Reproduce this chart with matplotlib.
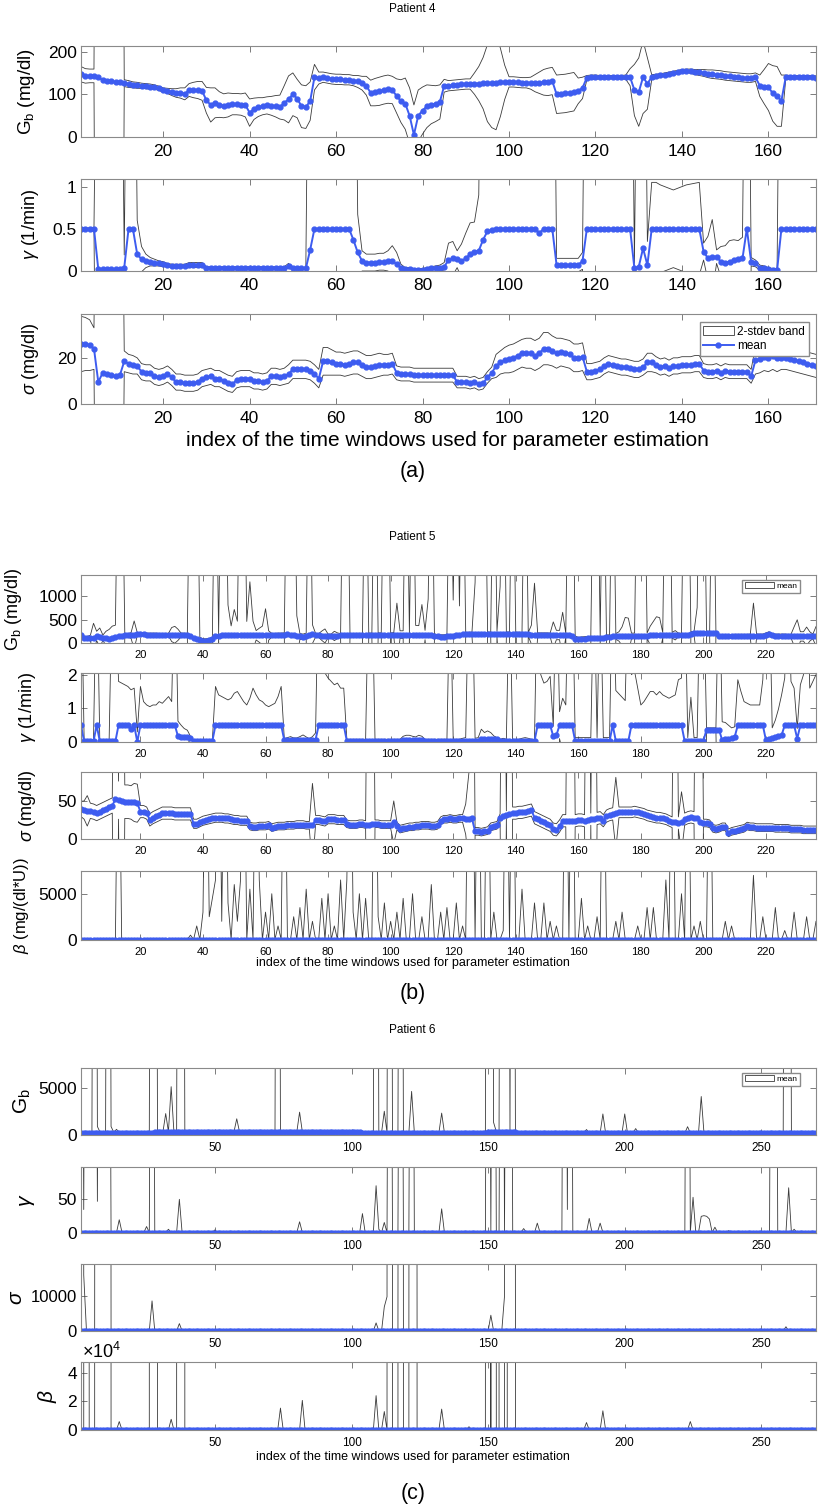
import numpy as np
import matplotlib
matplotlib.use("Agg")
import matplotlib.pyplot as plt
from matplotlib import font_manager
from matplotlib.patches import Patch
from matplotlib.lines import Line2D

# ---------------- fonts ----------------
names = {f.name for f in font_manager.fontManager.ttflist}
MAIN_FONT = "Liberation Sans"
NARROW_FONT = "Liberation Sans Narrow" if "Liberation Sans Narrow" in names else MAIN_FONT
plt.rcParams["font.family"] = [MAIN_FONT, "DejaVu Sans"]
plt.rcParams["mathtext.fontset"] = "custom"
plt.rcParams["mathtext.rm"] = MAIN_FONT
plt.rcParams["mathtext.it"] = MAIN_FONT + ":italic"

BAND_COLOR = "#3a3a3a"
MEAN_COLOR = "#3d5cf0"

# ================= Patient 4 (171 windows) =================
gb4_mean = [
    147, 143, 143, 143, 140, 133, 130, 130, 129, 128,
    126, 124, 122, 121, 120, 119, 118, 117, 114, 110,
    108, 105, 103, 103, 101, 110, 110, 110, 108, 86,
    75, 80, 76, 73, 75, 77, 77, 76, 75, 57,
    66, 70, 72, 74, 73, 72, 70, 80, 88, 100,
    90, 72, 70, 84, 140, 138, 140, 138, 136, 135,
    135, 134, 134, 132, 130, 126, 120, 103, 105, 107,
    110, 112, 110, 96, 84, 78, 50, 5, 50, 62,
    72, 76, 78, 82, 120, 120, 121, 122, 123, 124,
    124, 125, 125, 126, 126, 127, 127, 128, 128, 129,
    129, 128, 127, 127, 126, 126, 127, 128, 129, 131,
    100, 101, 102, 104, 106, 108, 115, 139, 140, 140,
    140, 140, 140, 140, 140, 140, 140, 140, 110, 105,
    140, 125, 140, 142, 144, 146, 148, 150, 152, 154,
    155, 154, 152, 151, 150, 148, 147, 146, 145, 143,
    142, 141, 140, 139, 138, 138, 140, 120, 118, 117,
    102, 95, 85, 140, 140, 140, 140, 140, 140, 140,
    139]
# half width of the 2-stdev band
gb4_band = [
    18, 17, 16, 16, 2000, 2000, 2000, 2000, 2000, 2000,
    8, 8, 7, 7, 6, 6, 6, 5, 5, 5,
    6, 8, 10, 12, 14, 15, 18, 20, 22, 30,
    40, 35, 30, 28, 28, 25, 25, 25, 28, 32,
    25, 22, 20, 20, 22, 25, 28, 40, 55, 50,
    45, 50, 50, 45, 30, 14, 12, 12, 12, 12,
    12, 12, 12, 12, 14, 16, 22, 30, 32, 33,
    33, 33, 32, 40, 50, 60, 65, 70, 60, 55,
    50, 45, 42, 40, 15, 12, 12, 12, 12, 12,
    12, 25, 40, 60, 90, 105, 110, 80, 40, 12,
    12, 12, 12, 12, 14, 20, 25, 30, 32, 32,
    45, 45, 45, 45, 45, 30, 25, 5, 5, 5,
    4, 4, 4, 4, 4, 4, 5, 20, 60, 80,
    85, 60, 6, 5, 4, 4, 4, 4, 4, 4,
    4, 5, 6, 7, 8, 9, 10, 10, 10, 10,
    10, 10, 10, 10, 10, 10, 10, 25, 40, 55,
    65, 70, 60, 5, 4, 4, 4, 4, 4, 4,
    4]
gamma4_mean = [
    .5, .5, .5, .5, .02, .02, .02, .02, .02, .02,
    .04, .5, .5, .2, .14, .12, .11, .10, .09, .08,
    .07, .06, .06, .06, .06, .07, .07, .07, .07, .04,
    .04, .04, .04, .04, .04, .04, .04, .04, .04, .04,
    .04, .04, .04, .04, .04, .04, .04, .04, .06, .03,
    .03, .03, .03, .25, .5, .5, .5, .5, .5, .5,
    .5, .5, .5, .37, .22, .12, .1, .1, .1, .11,
    .11, .12, .12, .08, .04, .02, .02, .01, .01, .01,
    .02, .03, .04, .04, .05, .13, .15, .14, .12, .15,
    .2, .23, .24, .37, .47, .48, .5, .5, .5, .5,
    .5, .5, .5, .5, .5, .5, .45, .5, .5, .5,
    .07, .07, .07, .07, .07, .07, .12, .5, .5, .5,
    .5, .5, .5, .5, .5, .5, .5, .5, .03, .05,
    .27, .07, .5, .5, .5, .5, .5, .5, .5, .5,
    .5, .5, .5, .5, .23, .15, .17, .17, .11, .1,
    .11, .13, .14, .15, .5, .11, .09, .04, .03, .02,
    .01, .01, .5, .5, .5, .5, .5, .5, .5, .5,
    .5]
gamma4_band = [
    .01, .01, .01, .01, 5, 5, 5, 5, 5, 5,
    .15, 5, 5, .4, .15, .08, .05, .04, .03, .03,
    .02, .02, .02, .02, .02, .03, .03, .03, .03, .01,
    .01, .01, .01, .01, .01, .01, .01, .01, .01, .01,
    .01, .01, .01, .01, .01, .01, .01, .01, .03, .01,
    .01, .01, .01, 5, 5, 5, 5, 5, 5, 5,
    5, 5, 5, 5, .45, .12, .1, .1, .1, .1,
    .1, .12, .18, .14, .04, .02, .02, .02, .02, .02,
    .02, .02, .02, .03, .05, .2, .2, .1, .2, .3,
    .37, .35, .66, 5, 5, 5, 5, 5, 5, 5,
    5, 5, 5, 5, 5, 5, 5, 5, 5, 5,
    .08, .08, .08, .08, .08, .08, .1, 5, 5, 5,
    5, 5, 5, 5, 5, 5, 5, 5, .06, 5,
    5, .28, .55, .55, .52, .5, .48, .46, .48, .5,
    .52, .53, .54, .55, .1, .26, .44, .08, .18, .2,
    .25, .24, .22, .25, 5, .05, .04, .03, .03, .02,
    .02, .02, 5, 5, 5, 5, 5, 5, 5, 5,
    5]
sigma4_mean = [
    26, 26, 25.5, 24, 9.5, 13.5, 13, 12.5, 12, 12.5,
    18.5, 17.5, 17, 16.5, 14, 13.5, 13.5, 12, 11.5, 12,
    13, 11.5, 9.5, 9.5, 9, 9, 9, 9.5, 11, 11.5,
    12, 11, 11, 10, 9, 8.5, 10.5, 11, 11, 11,
    10, 10, 9.5, 10, 12, 12, 11.5, 12, 13, 15,
    15, 15, 15, 14.5, 13, 11, 18.5, 18.5, 18, 17.5,
    17.5, 17, 17.5, 18, 18, 17, 16, 16, 16.5, 17,
    17, 17, 17.5, 13.5, 13, 13, 13, 12.5, 12.5, 12.5,
    12.5, 12.5, 12.5, 12.5, 12.5, 12.5, 12.5, 9.5, 9.5, 9.5,
    9, 9.5, 8.5, 9, 11.5, 13.5, 16.5, 18, 19, 19.5,
    20, 21, 22, 22, 22, 21, 22, 24, 24, 23,
    22, 22.5, 22, 21.5, 20, 20, 20.5, 14, 14, 14.5,
    15, 16.5, 17.5, 17, 16.5, 16, 16, 15.5, 15, 15,
    16, 18, 18, 17, 16, 16.5, 15.5, 16.5, 16.5, 17,
    17, 17, 17.5, 17.5, 14.5, 14, 14, 14.5, 13.5, 14.5,
    14, 14, 14, 14, 14, 12, 19, 19.5, 20.5, 20,
    21, 20, 20, 20, 19.5, 19, 18.5, 18, 17.5, 17,
    16.5]
sigma4_band = [
    12, 11.5, 11, 9, 200, 200, 200, 200, 200, 200,
    4.5, 4, 4, 3.5, 3.5, 3.5, 3.5, 3.5, 3.5, 3.5,
    3.5, 3.5, 3.5, 3.5, 3.5, 3.5, 3.5, 3.5, 3.5, 3.5,
    3.5, 3.5, 3.5, 3.5, 3.5, 3.5, 3.5, 3.5, 3.5, 3.5,
    3.5, 3.5, 3.5, 3.5, 3.5, 3.5, 3.5, 3.5, 4, 4,
    4, 4, 4, 4, 4, 4, 6, 6, 5.5, 5,
    5, 5, 5, 5, 5, 5, 5, 5, 5, 5,
    4.5, 4.5, 4.5, 3, 3, 3, 3, 3, 3, 3,
    3, 3, 3, 3, 3, 3, 3, 2.5, 2.5, 2.5,
    2.5, 2.5, 2.5, 2.5, 2.5, 2.5, 5, 5, 5.5, 6,
    6, 6, 6, 6.5, 6.5, 6.5, 6.5, 7, 7, 6.5,
    6.5, 6, 6, 6, 6, 6, 6, 3.5, 3.5, 3.5,
    3.5, 3.5, 3.5, 3.5, 3.5, 3.5, 3.5, 3.5, 3.5, 3.5,
    3.5, 4, 4, 3.5, 3.5, 3.5, 3.5, 3.5, 3.5, 3.5,
    3.5, 3.5, 3.5, 3.5, 3, 3, 3, 3, 3, 3,
    3, 3, 3, 3, 3, 3, 6, 6, 6, 6,
    6, 6, 5, 5, 5, 5, 5, 5, 5, 5,
    5]

# ================= Patient 5 (236 windows) =================
gb5_mean = (
    [175, 105, 100, 105, 110, 150, 120, 110, 100, 90, 110, 120]
    + [150, 155, 160, 160, 160, 170, 190, 200]
    + [185, 180, 180, 180, 180, 175, 175, 175, 180, 180, 175, 175, 170, 170, 165]
    + [150, 110, 80, 60, 50, 50, 60, 80]
    + [150, 155, 160, 160, 160, 165, 165, 165, 160, 160, 160, 165, 165, 165, 165,
       160, 160, 160, 165, 165, 170, 170, 175]
    + [200, 170, 160, 150, 140, 130, 150, 180, 190]
    + [165, 160, 155, 150, 150, 150, 150, 155, 160, 160, 160]
    + [160, 160, 165, 165, 165, 170, 170, 170, 170, 175, 175, 175, 175, 175]
    + [180, 180, 180, 180, 175, 175, 175, 175, 170, 170, 170, 165, 160, 150, 140]
    + [135, 135, 140, 145, 155]
    + [175, 180, 185, 185, 190, 190, 190, 190, 195, 195, 195, 190, 190, 190, 190,
       195, 195, 195, 190, 190, 190, 185, 185, 185, 180]
    + [175, 175, 175, 175, 175, 170, 170, 170, 170, 165, 165, 160, 150]
    + [90, 80, 90, 95, 100, 100, 105, 110, 110, 115]
    + [130, 135, 140, 140, 140, 145, 145]
    + [150, 150, 150, 155, 155, 155, 155, 160, 160, 160, 160, 165, 165, 165, 165,
       165, 170, 170, 175, 180]
    + [200, 205, 205, 210, 210, 210, 210, 215, 210]
    + [140, 140, 140, 140, 140, 145, 145, 145, 145, 145, 150, 150, 150, 150, 150,
       175, 200, 160, 150, 150, 150, 150, 145, 145, 145, 145, 140, 140, 140, 140,
       140, 140]
)
gb5_band = (
    [20, 40, 40, 60, 310, 100, 200, 60, 150, 200, 250, 260]
    + [5000, 5000] + [40, 40, 60, 300] + [30] * 11 + [150, 180, 120] + [40] * 3
    + [5000] * 3 + [60, 40, 40, 40, 40] + [5000] + [40] + [5000, 5000]
    + [650, 200, 550, 300] + [5000, 5000]
    + [300, 1140, 300, 100, 150, 200, 570, 100] + [40] * 5 + [5000] * 3 + [430]
    + [60, 60, 60] + [5000] + [200] + [40, 40, 100, 150, 40, 40, 100, 60, 40]
    + [5000, 5000] + [40] * 5 + [5000] + [40, 40] + [5000] + [40, 40]
    + [5000, 5000] + [40, 40] + [670, 80, 80] + [5000] + [40] + [5000]
    + [200, 200, 650, 100, 770] + [5000] + [40] * 5 + [5000] + [760] + [5000]
    + [610] + [5000] + [40] * 3 + [1100] + [5000] * 3 + [40, 40] + [5000]
    + [60, 1010] + [5000] + [40, 40] + [5000] + [40] * 3 + [5000]
    + [40, 200, 1100] + [40] * 5 + [280, 100, 100, 490, 40] + [5000, 5000]
    + [60, 40, 40, 40, 40, 40] + [5000, 5000] + [40] + [5000] + [40, 40] + [5000]
    + [60, 100, 200, 400, 380, 60, 60] + [5000] * 3
    + [60, 200, 300, 400, 380, 60] + [5000, 5000] + [60, 100, 40, 40]
    + [5000, 5000] + [40, 40, 550] + [5000, 5000] + [40, 40] + [5000]
    + [40] * 12 + [700] + [40] * 12 + [200, 350, 100, 100, 200, 100, 50, 210]
)
gamma5_mean = (
    [.5] + [.02] * 4 + [.5] + [.03, .02, .02, .02, .02, .02]
    + [.5, .5, .5, .5, .4, .5] + [0.0] + [.5] * 12
    + [.17, .15, .15, .15, .12] + [.03] * 7 + [.5] * 22
    + [.05, .05, .06, .07, .07, .06, .06, .05, .05, .06, .07] + [.5] * 9
    + [.03] * 18 + [.05] * 7 + [.03] * 18 + [.08] * 6 + [.03] * 12
    + [.5] * 5 + [.17, .2] + [.5] * 5 + [.03] * 12 + [.5] + [.03] * 5
    + [.5] * 17 + [.03] * 7 + [.37] * 5 + [.05, .08, .1, .12, .15]
    + [.5] * 9 + [.05, .1, .12, .15, .18, .2] + [.5] * 4 + [.1] + [.5] * 6
)
gamma5_band = (
    [5] + [.05] * 4 + [5] + [.05] * 4 + [5, 5]
    + [1.3, 1.25, 1.2, 1.15, 1.15, 1.1] + [.3, 1.15]
    + [.7, .6, .55, .6, .6, .7, .65, .75, .85, .7, 5]
    + [.45, .35, .25, .2, .05] + [.03] * 7
    + [1.15, .9, .85, .8, .75, .8, .95, 1.0, .85, .7, .6, .8, 1.1, .9, .75, .7,
       .6, .55, .6, .65, .85, 1.15]
    + [.05, .08, .1, .05, .05, .1, .15, .1, .05, .1, .2]
    + [5, 5, 1.55, 1.4, 1.3, 1.2, 1.25, 1.1, 1.1]
    + [.05] * 7 + [5, 5] + [.05] * 9 + [.12, .15, .15, .12, .1, .15, .12]
    + [.05] * 8 + [5] + [.05, .05, .05, .08, .1] + [5, 5] + [.08, .1]
    + [.3, .2, .25, .2, .1] + [.05, .05, .08, .05] + [5]
    + [.05, .05, .05, .08, .1, .08, .05, .05]
    + [5, 1.5, 1.25, 1.3, 1.45] + [.3, 5] + [.4, .8, .6, 5, 5]
    + [.1, .1, .1, .1, .1, .1, 5, .1, 5, .1, .1, .1] + [5]
    + [1.5, 1.4, 1.3, 1.2, 5]
    + [1.5, 1.6, 1.1, .6, .7, .85, 1.0, 1.0, .9, 1.0, .9, .85, .8, .85, .9, 1.35, 1.4]
    + [5, .1, 1.3, .1, .1, 5, 5] + [.05, .05, .05, .05, 5]
    + [.55, .5, .4, .3, .3] + [1.35, 1.0, .7, .65, .6, .6, .6, .6, 1.35]
    + [5, 5, .3, .5, .8, 1.2] + [1.4, 5, 1.3, 1.1] + [.3]
    + [1.2, 1.5, 5, 1.1, 1.3, 1.5]
)
sigma5_mean = (
    [39.5, 38, 37, 37, 36, 34, 36, 38, 40, 42, 44]
    + [52, 51, 50, 49, 49, 48, 48, 47] + [36, 36, 34] + [25, 28, 30, 32]
    + [34, 34, 34, 34, 33, 33, 33, 33, 33, 33] + [20, 20, 22, 24, 25]
    + [26, 27, 28, 28, 28, 27, 27] + [26, 25, 25, 24, 24, 24]
    + [17, 16, 16, 17, 17, 17, 18, 15, 16, 17, 17, 17]
    + [18, 18, 18, 19, 19, 19, 18, 18, 18]
    + [25, 25, 24, 23, 26, 26, 26, 25, 25, 25]
    + [20, 19, 19, 19, 20, 20, 19, 19, 20, 20, 20, 19, 19, 19, 19]
    + [22, 17, 13, 14] + [15, 16, 16, 17, 17, 18, 18, 18, 17, 17, 18]
    + [24, 26, 26, 27, 26, 26, 27, 27, 26, 26, 27] + [10, 10, 9, 10, 11]
    + [16, 17, 18] + [28, 30, 32, 33, 34, 34, 35, 35, 36, 37, 38]
    + [28, 26, 24, 22, 20, 18] + [13, 12, 17]
    + [24, 24, 23, 24, 24, 25, 25, 24, 25, 26, 26, 27, 28] + [24]
    + [30, 32, 33, 34, 35, 35, 35, 35, 35, 36, 35, 34, 33]
    + [31, 30, 29, 28, 28, 27] + [26, 24, 22, 22, 21, 22] + [26, 28, 29, 28, 27]
    + [22, 21, 21, 20] + [14, 13, 14, 16, 16] + [8, 10, 11, 12, 13, 14]
    + [17, 16, 16, 15, 15, 15, 15]
    + [15, 15, 14, 14, 14, 14, 14, 13, 13, 13, 13, 12, 12, 12, 12, 12]
)
sigma5_band = (
    [10, 12, 20, 10, 10, 10, 10, 10, 10, 10, 10] + [500, 25, 500, 22, 22, 22, 25, 25]
    + [8] * 17 + [6] * 18 + [5] * 20 + [55] + [6] * 10 + [5] * 7 + [500, 500]
    + [5] * 6 + [28] + [5] * 22 + [20, 60, 500] + [5] * 9 + [500, 5, 500]
    + [8] * 18 + [500, 500] + [8] * 4 + [500, 8, 500] + [8] * 6 + [47] + [7] * 18
    + [500, 8, 40] + [8] * 4 + [500, 500] + [5] * 37
)
beta5_mean = [30] * 236
beta5_base = 30
# window index -> upper band height above the mean (30000 = off the top)
beta5_peaks = {
    13: 30000, 36: 500, 38: 1500, 40: 3000, 41: 30000, 42: 2500, 43: 4500,
    44: 6500, 45: 30000, 46: 2000, 47: 30000, 48: 4000, 50: 6000, 51: 2000,
    52: 6500, 53: 30000, 55: 5500, 57: 30000, 58: 6500, 60: 3000, 62: 5000,
    64: 1500, 66: 30000, 69: 2500, 71: 3500, 73: 5500, 75: 2000, 78: 4500,
    80: 5000, 82: 1500, 84: 6500, 86: 6500, 87: 30000, 88: 3000, 90: 5000,
    92: 4500, 95: 30000, 96: 2500, 98: 4000, 100: 2000, 102: 3000, 104: 4500,
    107: 5000, 110: 2500, 113: 6000, 116: 3000, 118: 3500, 121: 4000,
    123: 1500, 125: 30000, 126: 30000, 128: 30000, 131: 30000, 133: 3000,
    136: 1000, 137: 30000, 139: 30000, 142: 5500, 146: 4000, 149: 4000,
    151: 2000, 153: 1500, 156: 30000, 158: 30000, 161: 4500, 163: 1500,
    166: 2500, 168: 30000, 172: 2000, 174: 3000, 179: 1500, 182: 3500,
    184: 3500, 188: 6500, 190: 30000, 193: 5000, 195: 30000, 197: 1500,
    199: 2000, 202: 30000, 207: 2000, 209: 1500, 216: 7000, 219: 2500,
    223: 3500, 226: 1000, 229: 3000, 233: 2500, 236: 2000,
}

# ================= Patient 6 (270 windows) =================
gb6_mean = [250] * 27 + [320] * 76 + [220] * 46 + [330] * 11 + [180] * 110
gb6_base = 30
gb6_peaks = {
    6: 1e5, 7: 650, 11: 1e5, 12: 650, 14: 350, 27: 1e5, 28: 1e5, 32: 1950,
    34: 4800, 37: 1e5, 38: 1e5, 58: 1400, 73: 1e5, 81: 2100, 92: 150,
    109: 1e5, 112: 2300, 114: 1e5, 118: 1e5, 122: 4400, 133: 2100,
    150: 1e5, 151: 1e5, 152: 1000, 155: 1e5, 156: 1e5, 157: 1e5, 159: 1e5,
    186: 400, 192: 2050, 200: 2050, 204: 500, 223: 700, 228: 3900,
    259: 1e5, 260: 1e5,
}
gamma6_mean = [0.5] * 270
gamma6_base = 0.3
gamma6_peaks = {
    1: 1000, 2: 34, 3: 1000, 4: 1000, 5: 1000, 6: 1000, 7: 46, 8: 1000,
    9: 1000, 10: 1000, 11: 1000, 15: 19, 25: 9, 27: 1000, 33: 5, 37: 49,
    50: 4, 81: 16, 104: 28, 109: 69, 110: 5, 112: 15, 114: 1000, 118: 1000,
    122: 1000, 133: 35, 150: 1000, 152: 1000, 155: 1000, 157: 1000,
    158: 1000, 163: 6, 168: 14, 178: 1000, 179: 34, 180: 1000, 187: 21,
    191: 14, 223: 1000, 225: 52, 228: 24, 229: 25, 230: 24, 231: 20,
    233: 8, 238: 3, 254: 1000, 255: 1000, 260: 66, 262: 5,
}
sigma6_mean = [20] * 270
sigma6_base = 10
sigma6_peaks = {
    1: 1e6, 2: 16000, 7: 1e6, 8: 1e6, 9: 1e6, 10: 1e6, 11: 1e6, 27: 8600,
    37: 2100, 109: 2300, 112: 6900, 113: 9800, 114: 1e6, 118: 1e6,
    122: 1e6, 123: 1e6, 151: 4500, 156: 10000, 157: 1e6, 158: 1e6,
    159: 1e6, 193: 500, 259: 1200,
}
beta6_mean = [0] * 270
beta6_base = 100
beta6_peaks = {
    3: 1e7, 7: 1e7, 8: 1e7, 9: 1e7, 10: 1e7, 11: 1e7, 15: 5900, 27: 1e7,
    28: 1e7, 34: 7500, 37: 1e7, 38: 1e7, 74: 15300, 82: 20700, 109: 24000,
    112: 12900, 114: 1e7, 118: 1e7, 122: 1e7, 123: 1e7, 133: 14600,
    143: 2300, 150: 1e7, 152: 1e7, 155: 1e7, 158: 1e7, 159: 1e7,
    186: 5200, 192: 13400, 224: 5900,
}


def with_peaks(n, base, peaks):
    band = [base] * n
    for k, v in peaks.items():
        band[k - 1] = v
    return band


# ---------------- figure helpers ----------------
W, H = 825, 1504
fig = plt.figure(figsize=(W / 100, H / 100), dpi=100)


def axes_px(top, bottom, left=81, right=816):
    return fig.add_axes([left / W, 1 - bottom / H, (right - left) / W, (bottom - top) / H])


def draw(ax, mean, band, scale=1.0):
    mean = np.asarray(mean, dtype=float) / scale
    band = np.asarray(band, dtype=float) / scale
    x = np.arange(1, len(mean) + 1)
    ax.plot(x, mean + band, color=BAND_COLOR, lw=0.6)
    ax.plot(x, mean - band, color=BAND_COLOR, lw=0.6)
    ax.plot(x, mean, color=MEAN_COLOR, lw=1.4, marker="o", ms=3.5,
            mec=MEAN_COLOR, mfc=MEAN_COLOR)


def style(ax, xlim, xticks, ylim, yticks, yticklabels, xsize, ysize, font):
    ax.set_xlim(xlim)
    ax.set_ylim(ylim)
    ax.set_xticks(xticks)
    ax.set_yticks(yticks)
    ax.set_yticklabels(yticklabels)
    ax.tick_params(direction="in", top=True, right=True, length=4, width=0.6,
                   color="#666666", pad=3)
    ax.tick_params(axis="x", labelsize=xsize, pad=5)
    ax.tick_params(axis="y", labelsize=ysize)
    for lab in ax.get_xticklabels() + ax.get_yticklabels():
        lab.set_family(font)
    for s in ax.spines.values():
        s.set_color("#8a8a8a")
        s.set_linewidth(0.8)


def ylab(ax, text, size, xpos, font=MAIN_FONT):
    ax.set_ylabel(text, fontsize=size, family=font)
    ax.yaxis.set_label_coords(xpos, 0.5)


def ftext(x, y, s, size, font=MAIN_FONT):
    fig.text(x / W, 1 - y / H, s, fontsize=size, family=font, ha="center", va="center")


# ---------------- panel (a) ----------------
xt4 = list(range(20, 171, 20))
ax = axes_px(46, 137)
draw(ax, gb4_mean, gb4_band)
style(ax, (1, 171), xt4, (0, 213), [0, 100, 200], ["0", "100", "200"], 12.5, 12.5, MAIN_FONT)
ylab(ax, r"G$_\mathrm{b}$ (mg/dl)", 13.5, -0.06)

ax = axes_px(179, 271)
draw(ax, gamma4_mean, gamma4_band)
style(ax, (1, 171), xt4, (0, 1.09), [0, 0.5, 1], ["0", "0.5", "1"], 12.5, 12.5, MAIN_FONT)
ylab(ax, r"$\gamma$ (1/min)", 13, -0.055)

ax = axes_px(314, 404)
draw(ax, sigma4_mean, sigma4_band)
style(ax, (1, 171), xt4, (0, 39), [0, 20], ["0", "20"], 12.5, 12.5, MAIN_FONT)
ylab(ax, r"$\sigma$ (mg/dl)", 13, -0.055)
leg_handles = [Patch(facecolor="white", edgecolor=BAND_COLOR, lw=0.6),
               Line2D([], [], color=MEAN_COLOR, lw=1.4, marker="o", ms=3.5)]
ax.legend(leg_handles, ["2-stdev band", "mean"], loc="upper right",
          bbox_to_anchor=(0.99, 0.91), fontsize=8.5, fancybox=False,
          edgecolor="#8a8a8a", framealpha=1, borderpad=0.3, labelspacing=0.2,
          handlelength=2.6, handletextpad=0.3, borderaxespad=0)

ftext(412, 9, "Patient 4", 8.5)
ftext(447, 441, "index of the time windows used for parameter estimation", 15)
ftext(413, 472, "(a)", 15.5)

# ---------------- panel (b) ----------------
xt5 = list(range(20, 236, 20))
ax = axes_px(575, 643)
draw(ax, gb5_mean, gb5_band)
style(ax, (1, 236), xt5, (0, 1450), [0, 500, 1000], ["0", "500", "1000"], 8, 12.5, MAIN_FONT)
ylab(ax, r"G$_\mathrm{b}$ (mg/dl)", 13, -0.078)
ax.legend([Patch(facecolor="white", edgecolor=BAND_COLOR, lw=0.6)], ["mean"],
          loc="upper right", bbox_to_anchor=(0.978, 0.93), fontsize=6,
          fancybox=False, edgecolor="#8a8a8a", framealpha=1, borderpad=0.3,
          handlelength=3.5, handletextpad=0.3, borderaxespad=0)

ax = axes_px(673, 742)
draw(ax, gamma5_mean, gamma5_band)
style(ax, (1, 236), xt5, (0, 2.05), [0, 1, 2], ["0", "1", "2"], 8, 12.5, MAIN_FONT)
ylab(ax, r"$\gamma$ (1/min)", 13, -0.058)

ax = axes_px(772, 839)
draw(ax, sigma5_mean, sigma5_band)
style(ax, (1, 236), xt5, (0, 88), [0, 50], ["0", "50"], 8, 12.5, MAIN_FONT)
ylab(ax, r"$\sigma$ (mg/dl)", 13, -0.058)

ax = axes_px(871, 940)
draw(ax, beta5_mean, with_peaks(236, beta5_base, beta5_peaks))
style(ax, (1, 236), xt5, (0, 7500), [0, 5000], ["0", "5000"], 8, 12.5, MAIN_FONT)
ylab(ax, r"$\beta$ (mg/(dl*U))", 12, -0.068)

ftext(412, 537, "Patient 5", 8.5)
ftext(413, 963, "index of the time windows used for parameter estimation", 9)
ftext(413, 993, "(b)", 15.5)

# ---------------- panel (c) ----------------
xt6 = list(range(50, 270, 50))
ax = axes_px(1068, 1135)
draw(ax, gb6_mean, with_peaks(270, gb6_base, gb6_peaks))
style(ax, (1, 270), xt6, (0, 7100), [0, 5000], ["0", "5000"], 8.5, 12.5, NARROW_FONT)
ylab(ax, r"G$_\mathrm{b}$", 15, -0.065, NARROW_FONT)
ax.legend([Patch(facecolor="white", edgecolor=BAND_COLOR, lw=0.6)], ["mean"],
          loc="upper right", bbox_to_anchor=(0.978, 0.93), fontsize=6,
          fancybox=False, edgecolor="#8a8a8a", framealpha=1, borderpad=0.3,
          handlelength=3.5, handletextpad=0.3, borderaxespad=0)

ax = axes_px(1167, 1233)
draw(ax, gamma6_mean, with_peaks(270, gamma6_base, gamma6_peaks))
style(ax, (1, 270), xt6, (0, 97), [0, 50], ["0", "50"], 8.5, 12.5, NARROW_FONT)
ylab(ax, r"$\gamma$", 15, -0.06, NARROW_FONT)

ax = axes_px(1264, 1331)
draw(ax, sigma6_mean, with_peaks(270, sigma6_base, sigma6_peaks))
style(ax, (1, 270), xt6, (0, 19200), [0, 10000], ["0", "10000"], 8.5, 12, NARROW_FONT)
ylab(ax, r"$\sigma$", 15, -0.075, NARROW_FONT)

ax = axes_px(1362, 1430)
draw(ax, beta6_mean, with_peaks(270, beta6_base, beta6_peaks), scale=1e4)
style(ax, (1, 270), xt6, (0, 4.75), [0, 2, 4], ["0", "2", "4"], 8.5, 12.5, NARROW_FONT)
ylab(ax, r"$\beta$", 15, -0.03, NARROW_FONT)
fig.text(82 / W, 1 - 1352 / H, r"$\times$10$^4$", fontsize=13, family=NARROW_FONT,
         ha="left", va="center")

ftext(412, 1030, "Patient 6", 8.5, NARROW_FONT)
ftext(413, 1457, "index of the time windows used for parameter estimation", 9, NARROW_FONT)
ftext(413, 1493, "(c)", 15.5, NARROW_FONT)

fig.savefig("out.png", dpi=100)
